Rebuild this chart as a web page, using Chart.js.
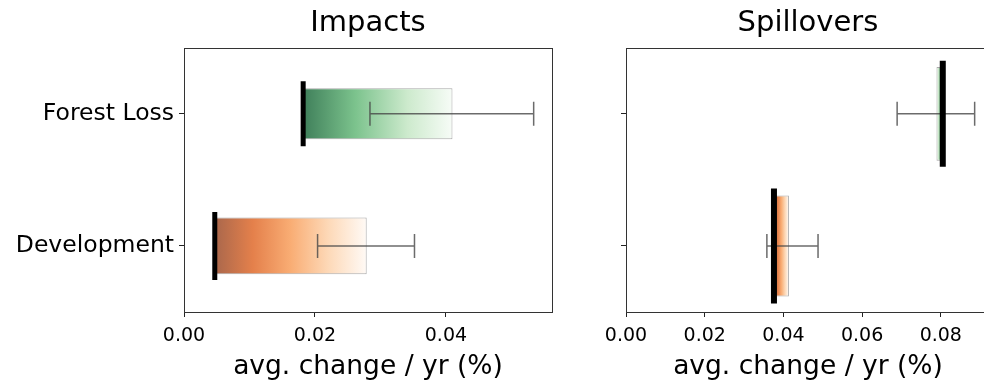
<!DOCTYPE html>
<html>
<head>
<meta charset="utf-8">
<script src="https://cdn.jsdelivr.net/npm/chart.js@4"></script>
<style>
  html, body { margin: 0; padding: 0; background: #fff; overflow: hidden; width: 984px; height: 383px; }
  #wrap { position: relative; width: 984px; height: 383px; overflow: hidden; }
  #impacts { position: absolute; left: 0; top: 0; }
  #spill { position: absolute; left: 590px; top: 0; }
</style>
</head>
<body>
<div id="wrap">
  <canvas id="impacts" width="590" height="383" style="width:590px;height:383px"></canvas>
  <canvas id="spill" width="410" height="383" style="width:410px;height:383px"></canvas>
</div>
<script>
const categories = ['Forest Loss', 'Development'];

// Impacts panel (avg. change / yr, %)
const impactObserved = [0.0182, 0.0047];
const impactEstimate = [0.0410, 0.0279];
const impactErrLow = [0.0284, 0.0204];
const impactErrHigh = [0.0534, 0.0352];
const impactTicks = [0, 0.02, 0.04];

// Spillovers panel
const spillObserved = [0.0805, 0.0376];
const spillEstimate = [0.0789, 0.0414];
const spillErrLow = [0.0689, 0.0358];
const spillErrHigh = [0.0886, 0.0488];
const spillTicks = [0, 0.02, 0.04, 0.06, 0.08];

Chart.defaults.font.family = "'DejaVu Sans', sans-serif";
Chart.defaults.color = '#000';
Chart.defaults.animation = false;

// colour ramps: dark at the observed marker, fading to white at the estimate
const greenStops = [[0, '#3f7f5a'], [0.35, '#7cc38d'], [0.7, '#cdeacd'], [1, '#f7fcf7']];
const orangeStops = [[0, '#a9674c'], [0.25, '#e4804b'], [0.5, '#f9ad74'], [0.75, '#fdd9b8'], [1, '#fffaf6']];

function gradientFill(stops) {
  return (ctx) => {
    const chart = ctx.chart;
    const raw = ctx.raw;
    if (!chart.chartArea || !Array.isArray(raw)) return stops[1][1];
    const x = chart.scales.x;
    const x0 = x.getPixelForValue(raw[0]);
    const x1 = x.getPixelForValue(raw[1]);
    if (Math.abs(x1 - x0) < 0.5) return stops[1][1];
    const g = chart.ctx.createLinearGradient(x0, 0, x1, 0);
    stops.forEach(s => g.addColorStop(s[0], s[1]));
    return g;
  };
}

function barSet(i, observed, estimate, stops, thickness) {
  return {
    type: 'bar',
    data: categories.map((c, j) => j === i ? [observed[j], estimate[j]] : null),
    backgroundColor: gradientFill(stops),
    borderColor: 'rgba(140,140,140,0.75)',
    borderWidth: 1,
    borderSkipped: false,
    grouped: false,
    barPercentage: thickness,
    categoryPercentage: 1,
    order: 2
  };
}

function markerSet(observed, radii, width) {
  return {
    type: 'line',
    indexAxis: 'y',
    data: observed,
    showLine: false,
    pointStyle: 'line',
    pointRotation: 90,
    pointRadius: radii,
    pointHoverRadius: radii,
    pointBorderWidth: width,
    pointBorderColor: '#000',
    pointBackgroundColor: '#000',
    order: 0
  };
}

// error bars drawn on top of the bars, just under the black markers
const errorBars = {
  id: 'errorBars',
  beforeDatasetDraw(chart, args, opts) {
    if (args.index !== chart.data.datasets.length - 1) return;
    const { ctx } = chart;
    const x = chart.scales.x, y = chart.scales.y;
    ctx.save();
    ctx.strokeStyle = 'rgba(70,70,70,0.8)';
    ctx.lineWidth = 1.5;
    opts.low.forEach((lo, i) => {
      const py = y.getPixelForValue(i);
      const a = x.getPixelForValue(lo);
      const b = x.getPixelForValue(opts.high[i]);
      ctx.beginPath();
      ctx.moveTo(a, py); ctx.lineTo(b, py);
      ctx.moveTo(a, py - 12); ctx.lineTo(a, py + 12);
      ctx.moveTo(b, py - 12); ctx.lineTo(b, py + 12);
      ctx.stroke();
    });
    ctx.restore();
  }
};

const frame = {
  id: 'frame',
  afterDraw(chart) {
    const { ctx, chartArea: a } = chart;
    ctx.save();
    ctx.strokeStyle = '#333';
    ctx.lineWidth = 1;
    ctx.strokeRect(Math.round(a.left) + 0.5, Math.round(a.top) + 0.5,
      Math.round(a.right - a.left), Math.round(a.bottom - a.top));
    ctx.restore();
  }
};

function panelOptions(cfg) {
  return {
    indexAxis: 'y',
    responsive: false,
    animation: false,
    layout: { autoPadding: false, padding: { left: 0, right: cfg.padRight, top: 0, bottom: 0 } },
    plugins: {
      legend: { display: false },
      tooltip: { enabled: false },
      title: {
        display: true,
        text: cfg.title,
        fullSize: false,
        color: '#000',
        font: { size: 29, weight: 'normal' },
        padding: { top: 6, bottom: 7 }
      },
      errorBars: { low: cfg.errLow, high: cfg.errHigh }
    },
    scales: {
      x: {
        type: 'linear',
        min: 0,
        max: cfg.xMax,
        afterBuildTicks: s => { s.ticks = cfg.ticks.map(v => ({ value: v })); },
        ticks: { callback: v => v.toFixed(2), font: { size: 19 }, color: '#000', padding: 8, maxRotation: 0, autoSkip: false },
        grid: { drawOnChartArea: false, tickLength: 5, color: '#222' },
        border: { display: false },
        title: { display: true, text: 'avg. change / yr (%)', color: '#000', font: { size: 26.5 }, padding: { top: 4, bottom: 0 } },
        afterFit: s => { s.height = 71; }
      },
      y: {
        type: 'category',
        labels: categories,
        offset: true,
        ticks: { display: cfg.showLabels, font: { size: 23.5 }, color: '#000', padding: 5 },
        grid: { drawOnChartArea: false, tickLength: 5, color: '#222', offset: false },
        border: { display: false },
        afterFit: s => { s.width = cfg.yWidth; }
      }
    }
  };
}

new Chart(document.getElementById('impacts'), {
  type: 'bar',
  data: {
    labels: categories,
    datasets: [
      barSet(0, impactObserved, impactEstimate, greenStops, 0.386),
      barSet(1, impactObserved, impactEstimate, orangeStops, 0.43),
      markerSet(impactObserved, [32.5, 34], 5)
    ]
  },
  options: panelOptions({
    title: 'Impacts', padRight: 38, yWidth: 184, xMax: 0.0562,
    ticks: impactTicks, errLow: impactErrLow, errHigh: impactErrHigh, showLabels: true
  }),
  plugins: [errorBars, frame]
});

new Chart(document.getElementById('spill'), {
  type: 'bar',
  data: {
    labels: categories,
    datasets: [
      barSet(0, spillObserved, spillEstimate, greenStops, 0.71),
      barSet(1, spillObserved, spillEstimate, orangeStops, 0.765),
      markerSet(spillObserved, [53, 57.5], 6)
    ]
  },
  options: panelOptions({
    title: 'Spillovers', padRight: 10, yWidth: 36, xMax: 0.0925,
    ticks: spillTicks, errLow: spillErrLow, errHigh: spillErrHigh, showLabels: false
  }),
  plugins: [errorBars, frame]
});
</script>
</body>
</html>
